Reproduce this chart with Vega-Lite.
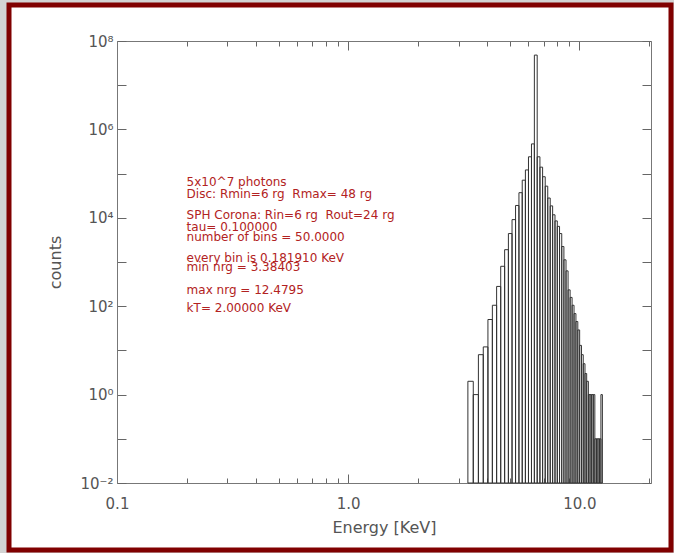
{
  "$schema": "https://vega.github.io/schema/vega-lite/v6.json",
  "width": 662,
  "height": 545,
  "autosize": {"type": "none"},
  "padding": {"left": 9, "top": 5, "right": 3, "bottom": 3},
  "background": "#d3d3d3",
  "config": {
    "view": {"stroke": "#800000", "strokeWidth": 5, "fill": "white"},
    "font": "DejaVu Sans",
    "axis": {
      "grid": false,
      "domainColor": "#777777",
      "tickColor": "#666666",
      "labelColor": "#555555",
      "titleColor": "#555555",
      "labelFont": "DejaVu Sans",
      "titleFont": "DejaVu Sans",
      "titleFontWeight": "normal",
      "labelFontSize": 15,
      "titleFontSize": 16,
      "labelFlush": false,
      "labelOverlap": false
    }
  },
  "datasets": {
    "bins": [
      {"e_lo": 3.2931, "e_hi": 3.4750, "counts": 2},
      {"e_lo": 3.4750, "e_hi": 3.6569, "counts": 1},
      {"e_lo": 3.6569, "e_hi": 3.8388, "counts": 8},
      {"e_lo": 3.8388, "e_hi": 4.0207, "counts": 12},
      {"e_lo": 4.0207, "e_hi": 4.2026, "counts": 50},
      {"e_lo": 4.2026, "e_hi": 4.3845, "counts": 105},
      {"e_lo": 4.3845, "e_hi": 4.5665, "counts": 280},
      {"e_lo": 4.5665, "e_hi": 4.7484, "counts": 800},
      {"e_lo": 4.7484, "e_hi": 4.9303, "counts": 1900},
      {"e_lo": 4.9303, "e_hi": 5.1122, "counts": 4400},
      {"e_lo": 5.1122, "e_hi": 5.2941, "counts": 9100},
      {"e_lo": 5.2941, "e_hi": 5.4760, "counts": 19000},
      {"e_lo": 5.4760, "e_hi": 5.6579, "counts": 37000},
      {"e_lo": 5.6579, "e_hi": 5.8398, "counts": 71000},
      {"e_lo": 5.8398, "e_hi": 6.0217, "counts": 121000},
      {"e_lo": 6.0217, "e_hi": 6.2036, "counts": 240000},
      {"e_lo": 6.2036, "e_hi": 6.3855, "counts": 470000},
      {"e_lo": 6.3855, "e_hi": 6.5674, "counts": 48000000},
      {"e_lo": 6.5674, "e_hi": 6.7493, "counts": 240000},
      {"e_lo": 6.7493, "e_hi": 6.9312, "counts": 140000},
      {"e_lo": 6.9312, "e_hi": 7.1132, "counts": 85000},
      {"e_lo": 7.1132, "e_hi": 7.2951, "counts": 52000},
      {"e_lo": 7.2951, "e_hi": 7.4770, "counts": 28000},
      {"e_lo": 7.4770, "e_hi": 7.6589, "counts": 18600},
      {"e_lo": 7.6589, "e_hi": 7.8408, "counts": 11700},
      {"e_lo": 7.8408, "e_hi": 8.0227, "counts": 8500},
      {"e_lo": 8.0227, "e_hi": 8.2046, "counts": 6400},
      {"e_lo": 8.2046, "e_hi": 8.3865, "counts": 4400},
      {"e_lo": 8.3865, "e_hi": 8.5684, "counts": 2240},
      {"e_lo": 8.5684, "e_hi": 8.7503, "counts": 1120},
      {"e_lo": 8.7503, "e_hi": 8.9322, "counts": 630},
      {"e_lo": 8.9322, "e_hi": 9.1141, "counts": 234},
      {"e_lo": 9.1141, "e_hi": 9.2960, "counts": 158},
      {"e_lo": 9.2960, "e_hi": 9.4779, "counts": 105},
      {"e_lo": 9.4779, "e_hi": 9.6599, "counts": 68},
      {"e_lo": 9.6599, "e_hi": 9.8418, "counts": 45},
      {"e_lo": 9.8418, "e_hi": 10.0237, "counts": 29},
      {"e_lo": 10.0237, "e_hi": 10.2056, "counts": 13},
      {"e_lo": 10.2056, "e_hi": 10.3875, "counts": 8},
      {"e_lo": 10.3875, "e_hi": 10.5694, "counts": 5},
      {"e_lo": 10.5694, "e_hi": 10.7513, "counts": 3},
      {"e_lo": 10.7513, "e_hi": 10.9332, "counts": 2},
      {"e_lo": 10.9332, "e_hi": 11.1151, "counts": 1},
      {"e_lo": 11.1151, "e_hi": 11.2970, "counts": 1},
      {"e_lo": 11.2970, "e_hi": 11.4789, "counts": 1},
      {"e_lo": 11.4789, "e_hi": 11.6608, "counts": 1},
      {"e_lo": 11.6608, "e_hi": 11.8427, "counts": 0.1},
      {"e_lo": 11.8427, "e_hi": 12.0246, "counts": 0.1},
      {"e_lo": 12.0246, "e_hi": 12.2065, "counts": 0.1},
      {"e_lo": 12.2065, "e_hi": 12.3884, "counts": 0.1},
      {"e_lo": 12.3884, "e_hi": 12.5703, "counts": 1}
    ],
    "notes": [
      {"tx": 0.2, "ty": 63500, "note": "5x10^7 photons"},
      {"tx": 0.2, "ty": 34500, "note": "Disc: Rmin=6 rg \u00a0Rmax= 48 rg"},
      {"tx": 0.2, "ty": 11600, "note": "SPH Corona: Rin=6 rg \u00a0Rout=24 rg"},
      {"tx": 0.2, "ty": 6200, "note": "tau= 0.100000"},
      {"tx": 0.2, "ty": 3730, "note": "number of bins = 50.0000"},
      {"tx": 0.2, "ty": 1210, "note": "every bin is 0.181910 KeV"},
      {"tx": 0.2, "ty": 783, "note": "min nrg = 3.38403"},
      {"tx": 0.2, "ty": 233, "note": "max nrg = 12.4795"},
      {"tx": 0.2, "ty": 92, "note": "kT= 2.00000 KeV"}
    ]
  },
  "layer": [
    {
      "data": {"name": "bins"},
      "mark": {"type": "rect", "filled": false, "stroke": "#333333", "strokeWidth": 1},
      "encoding": {
        "x": {
          "field": "e_lo",
          "type": "quantitative",
          "scale": {"type": "log", "domain": [0.1, 20.4], "range": [108, 642], "nice": false},
          "axis": {
            "orient": "bottom",
            "offset": -67,
            "values": [0.1, 0.2, 0.3, 0.4, 0.5, 0.6, 0.7, 0.8, 0.9, 1, 2, 3, 4, 5, 6, 7, 8, 9, 10, 20],
            "labelExpr": "datum.value == 0.1 ? '0.1' : datum.value == 1 ? '1.0' : datum.value == 10 ? '10.0' : ''",
            "tickSize": {"condition": {"test": "datum.value == 0.1 || datum.value == 1 || datum.value == 10", "value": -9}, "value": -5},
            "labelPadding": 22,
            "title": "Energy [KeV]",
            "titlePadding": 4
          }
        },
        "x2": {"field": "e_hi"},
        "y": {
          "field": "counts",
          "type": "quantitative",
          "scale": {"type": "log", "domain": [0.01, 100000000], "range": [478, 36], "nice": false},
          "axis": {
            "orient": "left",
            "offset": -108,
            "values": [0.01, 0.1, 1, 10, 100, 1000, 10000, 100000, 1000000, 10000000, 100000000],
            "labelExpr": "datum.value == 100000000 ? '10⁸' : datum.value == 1000000 ? '10⁶' : datum.value == 10000 ? '10⁴' : datum.value == 100 ? '10²' : datum.value == 1 ? '10⁰' : datum.value == 0.01 ? '10⁻²' : ''",
            "tickSize": -9,
            "labelPadding": 13,
            "title": "counts",
            "titlePadding": 16
          }
        },
        "y2": {"datum": 0.01}
      }
    },
    {
      "data": {"name": "notes"},
      "mark": {"type": "text", "align": "left", "baseline": "middle", "font": "DejaVu Sans", "fontSize": 12, "color": "#b22222"},
      "encoding": {
        "x": {
          "field": "tx",
          "type": "quantitative",
          "scale": {"type": "log", "domain": [0.1, 20.4], "range": [108, 642], "nice": false},
          "axis": {
            "orient": "top",
            "offset": -36,
            "values": [0.1, 0.2, 0.3, 0.4, 0.5, 0.6, 0.7, 0.8, 0.9, 1, 2, 3, 4, 5, 6, 7, 8, 9, 10, 20],
            "labels": false,
            "tickSize": {"condition": {"test": "datum.value == 0.1 || datum.value == 1 || datum.value == 10", "value": -9}, "value": -5},
            "title": null
          }
        },
        "y": {
          "field": "ty",
          "type": "quantitative",
          "scale": {"type": "log", "domain": [0.01, 100000000], "range": [478, 36], "nice": false},
          "axis": {
            "orient": "right",
            "offset": -20,
            "values": [0.01, 0.1, 1, 10, 100, 1000, 10000, 100000, 1000000, 10000000, 100000000],
            "labels": false,
            "tickSize": -9,
            "title": null
          }
        },
        "text": {"field": "note"}
      }
    }
  ],
  "resolve": {"axis": {"x": "independent", "y": "independent"}}
}
